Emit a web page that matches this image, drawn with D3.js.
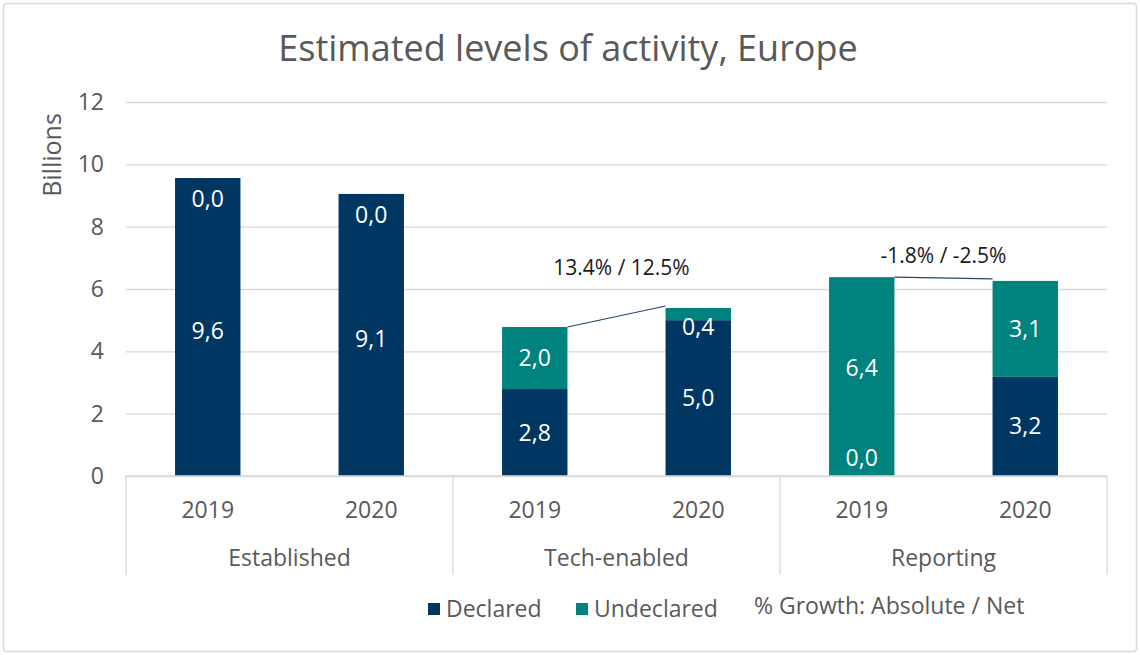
<!DOCTYPE html>
<html>
<head>
<meta charset="utf-8">
<script src="https://cdn.jsdelivr.net/npm/d3@7"></script>
<style>
  body { margin: 0; background: #fff; }
  text { font-family: "Open Sans", "Noto Sans", sans-serif; }
</style>
</head>
<body>
<div id="plot-container"></div>
<script>
// chart data
var groups = ["Established", "Tech-enabled", "Reporting"]
var years = ["2019", "2020"]
var declared = [[9.56, 9.05], [2.79, 5.0], [0.0, 3.18]]
var undeclared = [[0.0, 0.0], [1.99, 0.39], [6.38, 3.08]]
var yTicks = [0, 2, 4, 6, 8, 10, 12]
var growthGroups = ["Tech-enabled", "Reporting"]
var growthLabels = ["13.4% / 12.5%", "-1.8% / -2.5%"]

var W = 1140, H = 655
var mLeft = 126, mRight = 1107, mTop = 102, mBottom = 476

var navy = "#003662", teal = "#00827f", grey = "#595959", grid = "#d9d9d9"

var svg = d3.select("#plot-container").append("svg")
  .attr("width", W)
  .attr("height", H)

// outer frame
svg.append("rect")
  .attr("x", 3.5).attr("y", 3.5)
  .attr("width", W - 7).attr("height", H - 7)
  .attr("rx", 3)
  .attr("fill", "#fff")
  .attr("stroke", grid)
  .attr("stroke-width", 1.5)

// title
svg.append("text")
  .attr("x", 568).attr("y", 48)
  .attr("dy", "0.35em")
  .attr("text-anchor", "middle")
  .attr("font-size", 36)
  .attr("fill", grey)
  .text("Estimated levels of activity, Europe")

// scales
var xGroup = d3.scaleBand().domain(groups).range([mLeft, mRight])
var xYear = d3.scaleBand().domain(years).range([0, xGroup.bandwidth()])
var yScale = d3.scaleLinear().domain([0, 12]).range([mBottom, mTop])
var barW = xYear.bandwidth() * 0.4

// gridlines + y axis
var yAxis = svg.append("g")
  .attr("transform", "translate(" + mLeft + ",0)")
  .call(d3.axisLeft(yScale).tickValues(yTicks).tickSize(-(mRight - mLeft)).tickPadding(22))
yAxis.select(".domain").remove()
yAxis.selectAll(".tick line").attr("stroke", grid).attr("stroke-width", 1.3)
yAxis.selectAll(".tick text")
  .attr("font-size", 23)
  .attr("fill", grey)

// y title
svg.append("text")
  .attr("transform", "translate(52," + 155 + ") rotate(-90)")
  .attr("dy", "0.35em")
  .attr("text-anchor", "middle")
  .attr("font-size", 25)
  .attr("fill", grey)
  .text("Billions")

// flatten to bar records
var bars = []
groups.forEach(function (g, gi) {
  years.forEach(function (yr, yi) {
    bars.push({ group: g, year: yr, dec: declared[gi][yi], und: undeclared[gi][yi] })
  })
})
function barX (d) { return xGroup(d.group) + xYear(d.year) + (xYear.bandwidth() - barW) / 2 }

var fmt = function (v) { return d3.format(".1f")(v).replace(".", ",") }

var barG = svg.append("g")
bars.forEach(function (d) {
  var x0 = barX(d)
  var tot = d.dec + d.und
  // declared
  barG.append("rect")
    .attr("x", x0).attr("width", barW)
    .attr("y", yScale(d.dec)).attr("height", yScale(0) - yScale(d.dec))
    .attr("fill", navy)
  // undeclared
  barG.append("rect")
    .attr("x", x0).attr("width", barW)
    .attr("y", yScale(tot)).attr("height", yScale(d.dec) - yScale(tot))
    .attr("fill", teal)

  // labels, kept inside the bar (zero labels push the other one away a bit)
  var barTop = yScale(tot)
  var decY = d.dec === 0 ? yScale(0) - 18 : (yScale(0) + yScale(d.dec)) / 2
  var undY = (yScale(d.dec) + yScale(tot)) / 2
  undY = Math.max(undY, barTop + 19)
  if (d.und === 0) { undY = barTop + 21; decY += 4 }
  if (d.dec === 0) { undY -= 9 }
  ;[[d.dec, decY], [d.und, undY]].forEach(function (l) {
    barG.append("text")
      .attr("x", x0 + barW / 2).attr("y", l[1])
      .attr("dy", "0.35em")
      .attr("text-anchor", "middle")
      .attr("font-size", 23)
      .attr("fill", "#fff")
      .text(fmt(l[0]))
  })
})

// growth connectors
var labelOffset = [40, 22]
growthGroups.forEach(function (g, i) {
  var a = bars.filter(function (d) { return d.group === g })
  var t0 = a[0].dec + a[0].und, t1 = a[1].dec + a[1].und
  var xA = barX(a[0]) + barW, xB = barX(a[1])
  svg.append("line")
    .attr("x1", xA).attr("y1", yScale(t0))
    .attr("x2", xB).attr("y2", yScale(t1) - 2)
    .attr("stroke", "#1f4670").attr("stroke-width", 1.2)
  svg.append("text")
    .attr("x", (xA + xB) / 2 + (i === 0 ? 5 : 0))
    .attr("y", yScale(Math.max(t0, t1)) - labelOffset[i])
    .attr("dy", "0.35em")
    .attr("text-anchor", "middle")
    .attr("font-size", 21)
    .attr("fill", "#1a1a1a")
    .text(growthLabels[i])
})

// category axis
var xAx = svg.append("g")
xAx.append("line")
  .attr("x1", mLeft).attr("x2", mRight)
  .attr("y1", mBottom).attr("y2", mBottom)
  .attr("stroke", grid).attr("stroke-width", 1.3)
groups.concat([null]).forEach(function (g) {
  var xx = g ? xGroup(g) : mRight
  xAx.append("line")
    .attr("x1", xx).attr("x2", xx)
    .attr("y1", mBottom).attr("y2", 575)
    .attr("stroke", grid).attr("stroke-width", 1.3)
})
bars.forEach(function (d) {
  xAx.append("text")
    .attr("x", barX(d) + barW / 2).attr("y", 510)
    .attr("dy", "0.35em")
    .attr("text-anchor", "middle")
    .attr("font-size", 23)
    .attr("fill", grey)
    .text(d.year)
})
groups.forEach(function (g) {
  xAx.append("text")
    .attr("x", xGroup(g) + xGroup.bandwidth() / 2).attr("y", 558)
    .attr("dy", "0.35em")
    .attr("text-anchor", "middle")
    .attr("font-size", 23)
    .attr("fill", grey)
    .text(g)
})

// legend
var leg = svg.append("g")
var legItems = [{ name: "Declared", c: navy, x: 428 }, { name: "Undeclared", c: teal, x: 576 }]
legItems.forEach(function (l) {
  leg.append("rect")
    .attr("x", l.x).attr("y", 603)
    .attr("width", 12).attr("height", 12)
    .attr("fill", l.c)
  leg.append("text")
    .attr("x", l.x + 18).attr("y", 609)
    .attr("dy", "0.35em")
    .attr("font-size", 23)
    .attr("fill", grey)
    .text(l.name)
})
leg.append("text")
  .attr("x", 754).attr("y", 606)
  .attr("dy", "0.35em")
  .attr("font-size", 23)
  .attr("fill", grey)
  .text("% Growth: Absolute / Net")
</script>
</body>
</html>
